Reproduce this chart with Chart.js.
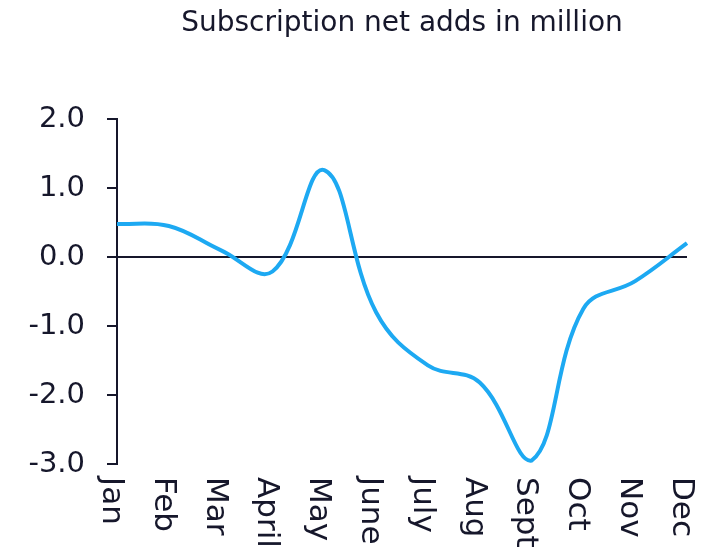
<!DOCTYPE html>
<html>
<head>
<meta charset="utf-8">
<script src="https://cdn.jsdelivr.net/npm/chart.js@4"></script>
<style>
  body { margin: 0; background: #fff; }
  #wrap { width: 713px; height: 551px; }
</style>
</head>
<body>
<div id="wrap"><canvas id="netAdds"></canvas></div>
<script>
const months = ['Jan', 'Feb', 'Mar', 'April', 'May', 'June', 'July', 'Aug', 'Sept', 'Oct', 'Nov', 'Dec'];
const netAdds = [0.48, 0.45, 0.1, -0.21, 1.26, -0.8, -1.57, -1.82, -2.95, -0.75, -0.35, 0.2];
const yTicks = [-3, -2, -1, 0, 1, 2];
const chartTitle = 'Subscription net adds in million';

const ink = '#16172b';
const font = 'DejaVu Sans, Verdana, sans-serif';

// month labels read top-to-bottom and the title sits over the plot area,
// neither of which chart.js does on its own
const extraText = {
    id: 'extraText',
    afterDraw(chart) {
        const x = chart.scales.x;
        const area = chart.chartArea;
        const c = chart.ctx;
        c.save();
        c.fillStyle = ink;

        c.font = '28px ' + font;
        c.textAlign = 'center';
        c.textBaseline = 'alphabetic';
        c.fillText(chartTitle, (area.left + area.right) / 2, 31);

        c.font = '31px ' + font;
        c.textAlign = 'left';
        c.textBaseline = 'middle';
        months.forEach(function (m, i) {
            c.save();
            c.translate(x.getPixelForValue(i) - 6, x.top + 13);
            c.rotate(Math.PI / 2);
            c.fillText(m, 0, 0);
            c.restore();
        });
        c.restore();
    }
};

const ctx = document.getElementById('netAdds').getContext('2d');
const netAddsChart = new Chart(ctx, {
    type: 'line',
    data: {
        labels: months,
        datasets: [{
            data: netAdds,
            borderColor: '#1da9f2',
            borderWidth: 4,
            pointRadius: 0,
            tension: 0.4,
            fill: false
        }]
    },
    options: {
        responsive: true,
        maintainAspectRatio: false,
        animation: false,
        layout: { padding: { left: 0, right: 26, top: 119, bottom: 0 } },
        plugins: {
            legend: { display: false },
            tooltip: { enabled: false },
            title: { display: false }
        },
        scales: {
            x: {
                offset: false,
                grid: { display: false },
                border: { display: false },
                ticks: { display: false },
                afterFit: function (s) { s.height = 87; }
            },
            y: {
                min: -3,
                max: 2,
                afterBuildTicks: function (s) { s.ticks = yTicks.map(v => ({ value: v })); },
                ticks: {
                    color: ink,
                    padding: 22,
                    font: { family: font, size: 29 },
                    callback: v => v.toFixed(1)
                },
                grid: {
                    drawTicks: true,
                    tickLength: 10,
                    tickColor: ink,
                    tickWidth: 2,
                    lineWidth: 2,
                    color: c => c.tick && c.tick.value === 0 ? ink : 'rgba(0,0,0,0)'
                },
                border: { display: true, color: ink, width: 2 },
                afterFit: function (s) { s.width = 117; }
            }
        }
    },
    plugins: [extraText]
});
</script>
</body>
</html>
